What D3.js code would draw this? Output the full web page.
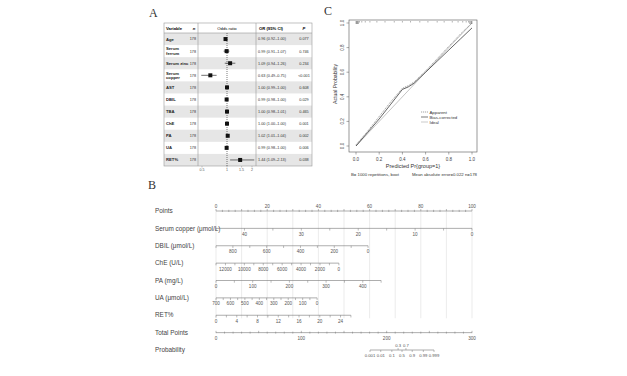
<!DOCTYPE html>
<html><head><meta charset="utf-8">
<script src="https://cdn.jsdelivr.net/npm/d3@7"></script>
<style>body{margin:0;background:#fff}svg{display:block}text{font-family:"Liberation Sans",Arial,sans-serif}</style>
</head><body><svg id="c" width="627" height="376"></svg>
<script>
// ---------- Panel A data ----------
const forestVars = ["Age","Serum\nferrum","Serum zinc","Serum\ncopper","AST","DBIL","TBA","ChE","PA","UA","RET%"];
const forestN = [178,178,178,178,178,178,178,178,178,178,178];
const forestOR = [0.96,0.99,1.09,0.63,1.00,0.99,1.00,1.00,1.02,0.99,1.44];
const forestLo = [0.92,0.91,0.94,0.49,0.99,0.98,0.98,1.00,1.01,0.98,1.09];
const forestHi = [1.00,1.07,1.26,0.75,1.00,1.00,1.01,1.00,1.04,1.00,2.13];
const forestCI = ["0.96 (0.92–1.00)","0.99 (0.91–1.07)","1.09 (0.94–1.26)","0.63 (0.49–0.75)","1.00 (0.99–1.00)","0.99 (0.98–1.00)","1.00 (0.98–1.01)","1.00 (1.00–1.00)","1.02 (1.01–1.04)","0.99 (0.98–1.00)","1.44 (1.09–2.13)"];
const forestP = ["0.077","0.746","0.234","<0.001","0.608","0.029","0.465","0.001","0.002","0.006","0.038"];
const orTicks = [0.5,1,1.5,2];

// ---------- Panel C data ----------
const calPred = [0,0.1,0.2,0.3,0.4,0.45,0.5,0.6,0.7,0.8,0.9,1.0];
const calApparent = [0.01,0.12,0.24,0.36,0.47,0.49,0.52,0.61,0.71,0.81,0.91,1.0];
const calBias = [0.0,0.11,0.22,0.34,0.46,0.48,0.51,0.60,0.69,0.78,0.87,0.96];
const calTicks = [0,0.2,0.4,0.6,0.8,1.0];
const rugPred = [0.0,0.005,0.01,0.015,0.02,0.03,0.05,0.08,0.12,0.18,0.25,0.33,0.4,0.47,0.55,0.62,0.7,0.76,0.83,0.88,0.92,0.95,0.97,0.98,0.99,0.995,1.0];

// ---------- Panel B data ----------
const nomoLabels = ["Points","Serum copper (μmol/L)","DBIL (μmol/L)","ChE (U/L)","PA (mg/L)","UA (μmol/L)","RET%","Total Points","Probability"];
const nomoVarStart = [45,900,13000,0,700,0];      // value at 0 points
const nomoVarEnd = [0,0,0,450,0,26];               // value at end of axis
const nomoVarEndPts = [100,59.4,48,64.5,39.5,52.7]; // points at end of axis
const nomoTickStep = [5,100,1000,50,50,2];
const nomoLabelStep = [10,200,2000,100,100,4];
const pointsTicks = [0,20,40,60,80,100];
const totalTicks = [0,100,200,300];
const probBelow = [0.001,0.01,0.1,0.5,0.9,0.99,0.999];
const probAbove = [0.3,0.7];
const probTP = [180.5,255.5]; // total points at p=0.001 and p=0.999

const svg = d3.select("#c");

// ---------- Panel labels ----------
svg.append("text").attr("x",149).attr("y",17).style("font-family","Liberation Serif").attr("font-size",12).attr("fill","#333").text("A");
svg.append("text").attr("x",324).attr("y",15).style("font-family","Liberation Serif").attr("font-size",12).attr("fill","#333").text("C");
svg.append("text").attr("x",148).attr("y",189).style("font-family","Liberation Serif").attr("font-size",12).attr("fill","#333").text("B");

// ---------- Panel A ----------
const tX0=164, tX1=312, tY0=23, tHdr=33, tY1=166, cN=198, cOR=256;
const rowY = d3.scaleBand().domain(forestVars).range([tHdr,tY1]);
const orX = d3.scaleLog().domain([0.5,2]).range([202,252]);
const gA = svg.append("g");
gA.selectAll("rect.shade").data(forestVars.filter((d,i)=>i%2===0)).join("rect")
  .attr("x",tX0).attr("width",tX1-tX0).attr("y",d=>rowY(d)).attr("height",rowY.bandwidth()).attr("fill","#e6e6e6");
gA.append("rect").attr("x",tX0).attr("y",tY0).attr("width",tX1-tX0).attr("height",tY1-tY0).attr("fill","none").attr("stroke","#999").attr("stroke-width",0.6);
gA.append("line").attr("x1",tX0).attr("x2",tX1).attr("y1",tHdr).attr("y2",tHdr).attr("stroke","#999").attr("stroke-width",0.6);
[cN,cOR].forEach(x=>gA.append("line").attr("x1",x).attr("x2",x).attr("y1",tY0).attr("y2",tY1).attr("stroke","#999").attr("stroke-width",0.6));
const hy = (tY0+tHdr)/2+1.5;
gA.append("text").attr("x",166).attr("y",hy).attr("font-size",4.2).attr("font-weight","bold").text("Variable");
gA.append("text").attr("x",194).attr("y",hy).attr("font-size",4.2).attr("font-weight","bold").attr("font-style","italic").attr("text-anchor","middle").text("n");
gA.append("text").attr("x",227).attr("y",hy).attr("font-size",4.2).attr("text-anchor","middle").text("Odds ratio");
gA.append("text").attr("x",271).attr("y",hy).attr("font-size",4.2).attr("font-weight","bold").attr("text-anchor","middle").text("OR (95% CI)");
gA.append("text").attr("x",304).attr("y",hy).attr("font-size",4.2).attr("font-weight","bold").attr("font-style","italic").attr("text-anchor","middle").text("P");
gA.append("line").attr("x1",orX(1)).attr("x2",orX(1)).attr("y1",tHdr).attr("y2",tY1).attr("stroke","#222").attr("stroke-width",0.6).attr("stroke-dasharray","1,1");
forestVars.forEach((v,i)=>{
  const cy = rowY(v)+rowY.bandwidth()/2;
  const lines = v.split("\n");
  lines.forEach((l,j)=>{
    gA.append("text").attr("x",166).attr("y",cy+1.5+(j-(lines.length-1)/2)*4.6).attr("font-size",4.2).attr("font-weight","bold").attr("fill","#222").text(l);
  });
  gA.append("text").attr("x",196).attr("y",cy+1.4).attr("font-size",3.8).attr("text-anchor","end").attr("fill","#333").text(forestN[i]);
  gA.append("line").attr("x1",orX(forestLo[i])).attr("x2",orX(forestHi[i])).attr("y1",cy).attr("y2",cy).attr("stroke","#111").attr("stroke-width",0.6);
  gA.append("rect").attr("x",orX(forestOR[i])-2).attr("y",cy-2).attr("width",4).attr("height",4).attr("fill","#111");
  gA.append("text").attr("x",272).attr("y",cy+1.4).attr("font-size",3.8).attr("text-anchor","middle").attr("fill","#333").text(forestCI[i]);
  gA.append("text").attr("x",304).attr("y",cy+1.4).attr("font-size",3.8).attr("text-anchor","middle").attr("fill","#333").text(forestP[i]);
});
orTicks.forEach(t=>{
  gA.append("line").attr("x1",orX(t)).attr("x2",orX(t)).attr("y1",tY1).attr("y2",tY1+1.5).attr("stroke","#777").attr("stroke-width",0.4);
  gA.append("text").attr("x",orX(t)).attr("y",tY1+5).attr("font-size",3.6).attr("text-anchor","middle").attr("fill","#555").text(t);
});

// ---------- Panel C ----------
const xC = d3.scaleLinear().domain([0,1]).range([356,472]);
const yC = d3.scaleLinear().domain([0,1]).range([146,23]);
const gC = svg.append("g");
gC.append("rect").attr("x",349).attr("y",20).attr("width",128).attr("height",132).attr("fill","none").attr("stroke","#555").attr("stroke-width",0.6);
calTicks.forEach(t=>{
  gC.append("line").attr("x1",349).attr("x2",346.5).attr("y1",yC(t)).attr("y2",yC(t)).attr("stroke","#555").attr("stroke-width",0.5);
  gC.append("text").attr("transform",`translate(343.5,${yC(t)}) rotate(-90)`).attr("font-size",4.5).attr("text-anchor","middle").attr("fill","#444").text(t.toFixed(1));
  gC.append("line").attr("x1",xC(t)).attr("x2",xC(t)).attr("y1",152).attr("y2",154.5).attr("stroke","#555").attr("stroke-width",0.5);
  gC.append("text").attr("x",xC(t)).attr("y",160.5).attr("font-size",4.5).attr("text-anchor","middle").attr("fill","#444").text(t.toFixed(1));
});
gC.append("text").attr("x",413).attr("y",168).attr("font-size",5.5).attr("text-anchor","middle").attr("fill","#333").text("Predicted Pr{group=1}");
gC.append("text").attr("transform","translate(337,84) rotate(-90)").attr("font-size",5.2).attr("text-anchor","middle").attr("fill","#333").text("Actual Probability");
gC.append("text").attr("x",351).attr("y",175.5).attr("font-size",4.3).attr("fill","#333").text("B= 1000 repetitions, boot");
gC.append("text").attr("x",477).attr("y",175.5).attr("font-size",4.3).attr("text-anchor","end").attr("fill","#333").text("Mean absolute error=0.022 n=178");
gC.selectAll("line.rug").data(rugPred).join("line").attr("x1",d=>xC(d)).attr("x2",d=>xC(d)).attr("y1",21).attr("y2",d=>(d<0.03||d>0.97)?24:22.5).attr("stroke","#666").attr("stroke-width",0.5);
gC.append("line").attr("x1",xC(0)).attr("y1",yC(0)).attr("x2",xC(1)).attr("y2",yC(1)).attr("stroke","#aaa").attr("stroke-width",0.7);
const lineC = d3.line().x(d=>xC(d[0])).y(d=>yC(d[1]));
gC.append("path").attr("d",lineC(calPred.map((p,i)=>[p,calApparent[i]]))).attr("fill","none").attr("stroke","#666").attr("stroke-width",0.6).attr("stroke-dasharray","1.2,0.8");
gC.append("path").attr("d",lineC(calPred.map((p,i)=>[p,calBias[i]]))).attr("fill","none").attr("stroke","#222").attr("stroke-width",0.7);
const legC = [["Apparent","#666","1.2,0.8"],["Bias-corrected","#222",null],["Ideal","#aaa",null]];
legC.forEach((l,i)=>{
  const y = 112+i*5;
  gC.append("line").attr("x1",421).attr("x2",428).attr("y1",y).attr("y2",y).attr("stroke",l[1]).attr("stroke-width",0.6).attr("stroke-dasharray",l[2]);
  gC.append("text").attr("x",429.5).attr("y",y+1.5).attr("font-size",4.3).attr("fill","#333").text(l[0]);
});

// ---------- Panel B: nomogram ----------
const gB = svg.append("g");
const rowN = d3.scalePoint().domain(nomoLabels).range([211,350]);
const ptsX = d3.scaleLinear().domain([0,100]).range([216,472]);
const totX = d3.scaleLinear().domain([0,300]).range([216,472]);
const lineCol = "#777", tickFs = 4.6;
d3.range(0,101,10).forEach(p=>{
  gB.append("line").attr("x1",ptsX(p)).attr("x2",ptsX(p)).attr("y1",rowN("Points")).attr("y2",rowN("RET%")+3).attr("stroke","#ddd").attr("stroke-width",0.6);
});
nomoLabels.forEach(l=>{
  gB.append("text").attr("x",155).attr("y",rowN(l)+2.2).attr("font-size",6.4).attr("fill","#444").text(l);
});
{
  const y = rowN("Points");
  gB.append("line").attr("x1",ptsX(0)).attr("x2",ptsX(100)).attr("y1",y).attr("y2",y).attr("stroke",lineCol).attr("stroke-width",0.6);
  d3.range(0,100.1,2.5).forEach(p=>{
    gB.append("line").attr("x1",ptsX(p)).attr("x2",ptsX(p)).attr("y1",y-(p%10===0?2:1.2)).attr("y2",y+(p%10===0?0:1)).attr("stroke",lineCol).attr("stroke-width",0.5);
  });
  pointsTicks.forEach(p=>gB.append("text").attr("x",ptsX(p)).attr("y",y-3.5).attr("font-size",tickFs).attr("text-anchor","middle").attr("fill","#555").text(p));
}
nomoLabels.slice(1,7).forEach((lab,i)=>{
  const y = rowN(lab);
  const sc = d3.scaleLinear().domain([nomoVarStart[i],nomoVarEnd[i]]).range([ptsX(0),ptsX(nomoVarEndPts[i])]);
  gB.append("line").attr("x1",sc.range()[0]).attr("x2",sc.range()[1]).attr("y1",y).attr("y2",y).attr("stroke",lineCol).attr("stroke-width",0.6);
  const lo = Math.min(nomoVarStart[i],nomoVarEnd[i]), hi = Math.max(nomoVarStart[i],nomoVarEnd[i]);
  d3.range(lo,hi+1e-9,nomoTickStep[i]).forEach(v=>{
    gB.append("line").attr("x1",sc(v)).attr("x2",sc(v)).attr("y1",y).attr("y2",y+2.2).attr("stroke",lineCol).attr("stroke-width",0.5);
  });
  d3.range(0,hi+1e-9,nomoLabelStep[i]).forEach(v=>{
    gB.append("text").attr("x",sc(v)).attr("y",y+7.5).attr("font-size",tickFs).attr("text-anchor","middle").attr("fill","#555").text(v);
  });
});
{
  const y = rowN("Total Points");
  gB.append("line").attr("x1",totX(0)).attr("x2",totX(300)).attr("y1",y).attr("y2",y).attr("stroke",lineCol).attr("stroke-width",0.6);
  d3.range(0,301,10).forEach(p=>{
    gB.append("line").attr("x1",totX(p)).attr("x2",totX(p)).attr("y1",y-(p%50===0?1.8:1)).attr("y2",y+(p%50===0?0.5:1)).attr("stroke",lineCol).attr("stroke-width",0.5);
  });
  totalTicks.forEach(p=>gB.append("text").attr("x",totX(p)).attr("y",y+7.5).attr("font-size",tickFs).attr("text-anchor","middle").attr("fill","#555").text(p));
}
{
  const y = rowN("Probability");
  const logit = p=>Math.log(p/(1-p));
  const pl = d3.scaleLinear().domain([logit(0.001),logit(0.999)]).range([totX(probTP[0]),totX(probTP[1])]);
  const px = p=>pl(logit(p));
  gB.append("line").attr("x1",px(0.001)).attr("x2",px(0.999)).attr("y1",y).attr("y2",y).attr("stroke",lineCol).attr("stroke-width",0.6);
  probBelow.forEach(p=>{
    gB.append("line").attr("x1",px(p)).attr("x2",px(p)).attr("y1",y).attr("y2",y+2).attr("stroke",lineCol).attr("stroke-width",0.5);
    gB.append("text").attr("x",px(p)).attr("y",y+7).attr("font-size",4.2).attr("text-anchor","middle").attr("fill","#555").text(p);
  });
  probAbove.forEach(p=>{
    gB.append("line").attr("x1",px(p)).attr("x2",px(p)).attr("y1",y).attr("y2",y-2).attr("stroke",lineCol).attr("stroke-width",0.5);
    gB.append("text").attr("x",px(p)).attr("y",y-3).attr("font-size",4.2).attr("text-anchor","middle").attr("fill","#555").text(p);
  });
}
</script></body></html>
